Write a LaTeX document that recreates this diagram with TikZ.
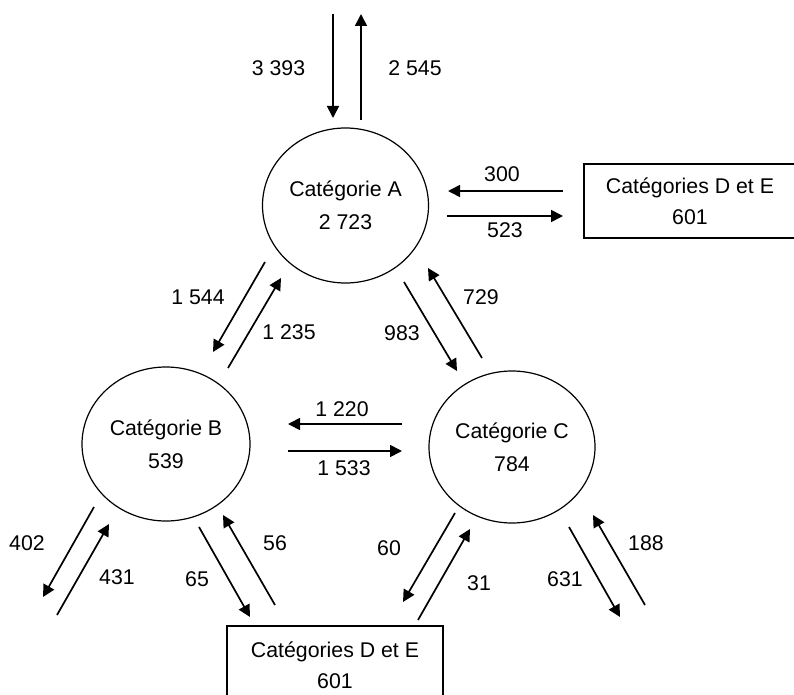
\documentclass[tikz,border=0pt]{standalone}
\usepackage{fontspec}
\setmainfont{Liberation Sans}
\usetikzlibrary{arrows.meta,shapes.geometric}
\begin{document}
\begin{tikzpicture}[x=1pt,y=-1pt,
  flow/.style={line width=1.7pt,-{Triangle[length=12pt,width=12pt]}},
  txt/.style={font=\fontsize{21.3}{31}\selectfont},
  lbl/.style={txt,inner sep=0pt},
  cat/.style={draw,ellipse,line width=1.2pt,inner sep=0pt,align=center,txt},
  other/.style={draw,rectangle,line width=1.2pt,inner sep=0pt,align=center,txt}
]
\useasboundingbox (0,0) rectangle (794,695);
\clip (0,0) rectangle (794,695);

% categories
\node[cat,minimum width=166pt,minimum height=155pt] (A) at (345.5,205.5) {Catégorie A\\[2pt]2 723};
\node[cat,minimum width=168pt,minimum height=154pt] (B) at (166,444) {Catégorie B\\[2pt]539};
\node[cat,minimum width=166pt,minimum height=152pt] (C) at (512,447) {Catégorie C\\[2pt]784};
\node[other,minimum width=212pt,minimum height=74pt] (DE1) at (690,201) {Catégories D et E\\601};
\node[other,minimum width=216pt,minimum height=78pt] (DE2) at (335,665) {Catégories D et E\\601};

% arrow end points
\coordinate (t1s) at (333,14);  \coordinate (t1e) at (333,118);
\coordinate (t2s) at (361,120); \coordinate (t2e) at (361,14);
\coordinate (r1s) at (563,191); \coordinate (r1e) at (448,191);
\coordinate (r2s) at (447,216); \coordinate (r2e) at (563,216);
\coordinate (ab1s) at (265,262); \coordinate (ab1e) at (213,352);
\coordinate (ab2s) at (228,368); \coordinate (ab2e) at (281,278);
\coordinate (ac1s) at (404,282); \coordinate (ac1e) at (457,371);
\coordinate (ac2s) at (482,358); \coordinate (ac2e) at (428,268);
\coordinate (bc1s) at (402,424); \coordinate (bc1e) at (288,424);
\coordinate (bc2s) at (288,451); \coordinate (bc2e) at (402,451);
\coordinate (bo1s) at (94,507);  \coordinate (bo1e) at (43,597);
\coordinate (bo2s) at (57,615);  \coordinate (bo2e) at (109,524);
\coordinate (bd1s) at (199,527); \coordinate (bd1e) at (250,617);
\coordinate (bd2s) at (275,605); \coordinate (bd2e) at (223,515);
\coordinate (cd1s) at (455,513); \coordinate (cd1e) at (403,602);
\coordinate (cd2s) at (418,620); \coordinate (cd2e) at (470,529);
\coordinate (co1s) at (569,527); \coordinate (co1e) at (620,617);
\coordinate (co2s) at (645,605); \coordinate (co2e) at (593,515);

% arrows
\draw[flow] (t1s) -- (t1e);
\draw[flow] (t2s) -- (t2e);
\draw[flow] (r1s) -- (r1e);
\draw[flow] (r2s) -- (r2e);
\draw[flow] (ab1s) -- (ab1e);
\draw[flow] (ab2s) -- (ab2e);
\draw[flow] (ac1s) -- (ac1e);
\draw[flow] (ac2s) -- (ac2e);
\draw[flow] (bc1s) -- (bc1e);
\draw[flow] (bc2s) -- (bc2e);
\draw[flow] (bo1s) -- (bo1e);
\draw[flow] (bo2s) -- (bo2e);
\draw[flow] (bd1s) -- (bd1e);
\draw[flow] (bd2s) -- (bd2e);
\draw[flow] (cd1s) -- (cd1e);
\draw[flow] (cd2s) -- (cd2e);
\draw[flow] (co1s) -- (co1e);
\draw[flow] (co2s) -- (co2e);

% labels
\node[lbl] (l1) at (278.5,68) {3 393};
\node[lbl] (l2) at (415,68) {2 545};
\node[lbl] (l3) at (502,174) {300};
\node[lbl] (l4) at (505,230) {523};
\node[lbl] (l5) at (198,297) {1 544};
\node[lbl] (l6) at (289,332) {1 235};
\node[lbl] (l7) at (402,333) {983};
\node[lbl] (l8) at (481,297) {729};
\node[lbl] (l9) at (342,409) {1 220};
\node[lbl] (l10) at (344,468) {1 533};
\node[lbl] (l11) at (27,543) {402};
\node[lbl] (l12) at (117,577) {431};
\node[lbl] (l13) at (197,579) {65};
\node[lbl] (l14) at (275,543) {56};
\node[lbl] (l15) at (389,548) {60};
\node[lbl] (l16) at (479,583) {31};
\node[lbl] (l17) at (565,579) {631};
\node[lbl] (l18) at (646,543) {188};
\end{tikzpicture}
\end{document}
